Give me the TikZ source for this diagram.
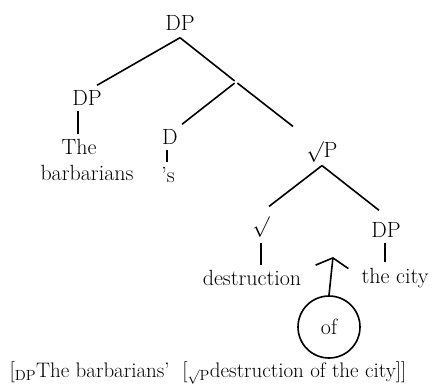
\documentclass[tikz,border=0pt]{standalone}
\usetikzlibrary{arrows.meta}
\begin{document}
\begin{tikzpicture}[x=1pt,y=-1pt,
  lab/.style={font=\fontsize{22}{24}\selectfont, inner sep=0.3em},
  branch/.style={line width=1.6pt},
  stem/.style={branch, shorten <=2.5pt, shorten >=2.5pt}]
\useasboundingbox (0,0) rectangle (434,386);
% labels of the tree
\node[lab] (top) at (180,23) {DP};
\node[inner sep=1.2pt] (bar) at (236,82) {};
\node[lab] (dpl) at (87,98) {DP};
\node[lab] (the) at (79,147) {The};
\node[lab] (barb) at (87,173) {barbarians};
\node[lab] (d) at (170,137) {D};
\node[lab] (poss) at (168,175) {'s};
\node[lab] (rp) at (322,152) {$\surd$P};
\node[lab] (rt) at (261,227) {$\surd$};
\node[lab] (dpr) at (386,230) {DP};
\node[lab] (destr) at (252,278) {destruction};
\node[lab] (city) at (395,278) {the city};
\node[lab, draw, circle, line width=1.6pt, minimum size=62pt, inner sep=0pt] (of) at (329,327) {of};
\coordinate (tip) at (333,257);
\node[lab, font=\fontsize{21}{24}\selectfont] (gloss) at (208,373)
  {[\textsubscript{DP}The barbarians' \ [\textsubscript{$\surd$P}destruction of the city]]};
% branches
\draw[branch] ([yshift=-4pt]top.south) -- ([xshift=10pt,yshift=2pt]dpl.north);
\draw[branch] ([yshift=-4pt]top.south) -- (bar);
\draw[branch] (bar) -- ([xshift=12pt,yshift=2pt]d.north);
\draw[branch] (bar) -- ([xshift=-29pt,yshift=12pt]rp.north);
\draw[branch] (rp.south) -- ([xshift=8pt,yshift=7pt]rt.north);
\draw[branch] (rp.south) -- ([xshift=-7pt,yshift=9pt]dpr.north);
% unary stems
\draw[stem] ([xshift=-9pt]dpl.south) -- ([xshift=-9pt]dpl.south |- the.north);
\draw[stem] ([xshift=-3pt]d.south) -- ([xshift=-3pt]d.south |- poss.north);
\draw[stem] (rt.south) -- (rt.south |- destr.north);
\draw[stem] ([xshift=-1pt]dpr.south) -- ([xshift=-1pt]dpr.south |- city.north);
\draw[branch, -{Straight Barb[length=9pt,width=33pt]}] (of.north) -- (tip);
\end{tikzpicture}
\end{document}
